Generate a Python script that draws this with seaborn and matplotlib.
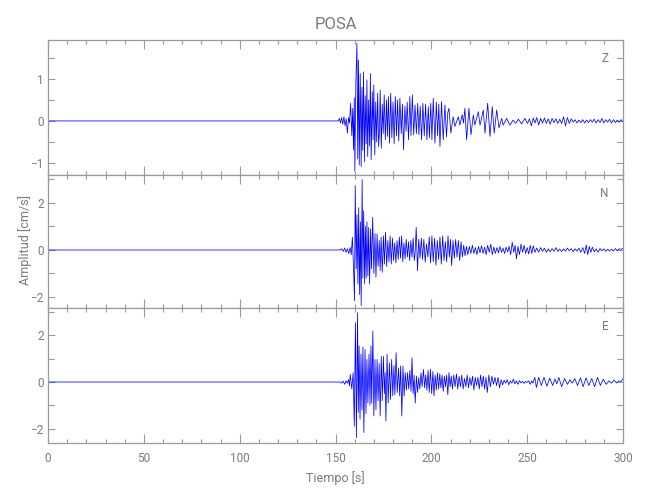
import matplotlib
matplotlib.use("Agg")
import matplotlib.pyplot as plt
import seaborn as sns
from matplotlib.ticker import MultipleLocator

# --- data (time in s, amplitude in cm/s) ---
z_t = [0, 150, 151.5, 152.0, 152.6, 153.2, 153.8, 154.4, 155.0, 155.6, 156.2, 156.8, 157.3,
       157.9, 158.5, 159.0, 159.4, 159.8, 160.1, 160.6, 161.2, 161.6, 162.0, 162.4, 162.9,
       163.4, 163.8, 164.2, 164.6, 165.1, 165.5, 166.0, 166.4, 166.8, 167.3, 167.8, 168.2,
       168.6, 169.2, 169.6, 170.0, 170.5, 171.0, 171.5, 172.0, 172.5, 172.9, 173.3, 173.9,
       174.4, 174.9, 175.4, 176.0, 176.6, 177.1, 177.6, 178.2, 178.8, 179.4, 180.0, 180.6,
       181.2, 181.8, 182.4, 183.0, 183.6, 184.3, 184.9, 185.5, 186.2, 186.8, 187.4, 188.1,
       188.8, 189.4, 190.1, 190.8, 191.5, 192.2, 192.9, 193.5, 194.2, 194.9, 195.6, 196.3,
       197.0, 197.7, 198.4, 199.0, 199.7, 200.3, 201.0, 201.9, 202.6, 203.3, 203.9, 204.5,
       205.3, 206.2, 207.1, 207.9, 208.6, 209.2, 210.2, 211.4, 212.3, 214.1, 214.9, 216.1,
       216.8, 217.5, 218.4, 219.6, 220.7, 221.9, 222.7, 224.5, 225.4, 227.1, 228.0, 229.4,
       230.6, 231.8, 232.8, 234.1, 235.3, 236.7, 237.5, 239.3, 241.0, 242.7, 244.0, 245.4,
       247.1, 248.8, 250.2, 251.2, 252.2, 253.2, 254.1, 255.0, 256.0, 257.0, 258.0, 259.0,
       260.0, 261.0, 262.0, 263.0, 264.0, 265.0, 266.0, 267.0, 268.0, 269.0, 270.0, 271.0,
       272.0, 273.0, 274.0, 275.0, 276.0, 277.0, 278.0, 279.0, 280.0, 281.0, 282.0, 283.0,
       284.0, 285.0, 286.0, 287.0, 288.0, 289.0, 290.0, 291.0, 292.0, 293.0, 294.0, 295.0,
       296.0, 297.0, 298.0, 299.0, 300.0]
z_v = [0, 0, 0.0, 0.06, -0.05, 0.08, -0.08, 0.10, -0.12, 0.05, -0.29, 0.08, -0.05,
       0.42, -0.35, 0.30, -0.69, 0.55, -1.20, 0.90, 1.85, -0.90, 1.45, -1.05, 1.13,
       -1.09, 0.80, -0.70, 1.17, -0.97, 0.60, -0.55, 0.98, -0.85, 0.50, -0.60, 1.13,
       -0.93, 0.70, -0.45, 0.86, -0.81, 0.45, -0.50, 0.66, -0.61, -0.30, 0.74, -0.65,
       0.40, -0.30, 0.62, -0.45, 0.50, -0.37, 0.58, -0.53, 0.66, -0.40, 0.45, -0.55,
       0.58, -0.35, 0.50, -0.48, 0.54, -0.30, 0.40, -0.69, 0.35, -0.25, 0.45, -0.45,
       0.58, -0.35, 0.62, -0.33, 0.38, -0.30, 0.42, -0.33, 0.35, -0.45, 0.42, -0.36,
       0.40, -0.45, 0.34, -0.40, 0.42, -0.45, 0.54, -0.53, 0.45, -0.35, 0.40, -0.61,
       0.46, -0.45, 0.38, -0.38, 0.20, 0.30, -0.29, 0.10, -0.13, 0.10, -0.10, 0.15,
       -0.05, 0.30, -0.45, 0.30, -0.33, 0.14, -0.10, 0.22, -0.10, 0.26, -0.29, 0.42,
       -0.37, 0.34, -0.29, 0.26, -0.17, 0.06, -0.10, 0.06, -0.10, 0.02, -0.06, 0.04,
       -0.07, 0.06, -0.06, 0.05, -0.12, 0.07, -0.05, 0.08, -0.10, 0.06, -0.05, 0.07,
       -0.06, 0.05, -0.08, 0.06, -0.04, 0.05, -0.06, 0.04, -0.06, 0.10, -0.12, 0.08,
       -0.06, 0.05, -0.03, 0.03, -0.05, 0.02, -0.04, 0.03, -0.05, 0.02, -0.04, 0.03,
       -0.03, 0.04, -0.05, 0.03, -0.04, 0.06, -0.05, 0.03, -0.03, 0.04, -0.05, 0.03,
       -0.04, 0.02, -0.03, 0.03, -0.02]

n_t = [0, 150, 152.5, 153.2, 154.0, 154.8, 155.5, 156.2, 156.9, 157.6, 158.2, 158.8, 159.4,
       159.9, 160.3, 160.8, 161.2, 161.7, 162.1, 162.6, 163.0, 163.4, 163.9, 164.3, 164.7,
       165.2, 165.6, 166.0, 166.4, 166.9, 167.3, 167.8, 168.3, 168.8, 169.4, 170.0, 170.6,
       171.1, 171.7, 172.2, 172.8, 173.3, 173.8, 174.4, 175.0, 175.5, 176.1, 176.7, 177.3,
       177.9, 178.5, 179.1, 179.7, 180.3, 180.9, 181.5, 182.1, 182.7, 183.3, 183.9, 184.5,
       185.1, 185.7, 186.3, 186.9, 187.5, 188.1, 188.7, 189.3, 189.9, 190.5, 191.1, 191.5,
       192.1, 192.8, 193.4, 194.1, 194.8, 195.4, 196.1, 196.8, 197.5, 198.2, 198.9, 199.6,
       200.3, 201.0, 201.7, 202.4, 203.1, 203.8, 204.5, 205.2, 205.9, 206.6, 207.3, 208.0,
       208.7, 209.4, 210.0, 210.6, 211.3, 212.0, 212.7, 213.4, 214.1, 214.8, 215.5, 216.2,
       216.9, 217.6, 218.3, 219.0, 219.8, 220.6, 221.4, 222.2, 223.0, 223.8, 224.6, 225.4,
       226.2, 227.0, 227.8, 228.6, 229.4, 230.2, 231.0, 231.8, 232.6, 233.4, 234.2, 235.0,
       235.8, 236.6, 237.4, 238.2, 239.0, 239.8, 240.6, 241.4, 242.2, 243.0, 243.7, 244.4,
       245.2, 246.0, 246.8, 247.6, 248.4, 249.2, 250.0, 250.8, 251.6, 252.4, 253.2, 254.0,
       255.0, 256.0, 257.0, 258.0, 259.0, 260.0, 261.0, 262.0, 263.0, 264.0, 265.0, 266.0,
       267.0, 268.0, 269.0, 270.0, 271.0, 272.0, 273.0, 274.0, 275.0, 276.0, 277.0, 278.0,
       279.0, 280.0, 280.8, 281.6, 282.4, 283.2, 284.0, 285.0, 286.0, 287.0, 288.0, 289.0,
       290.0, 291.0, 292.0, 293.0, 294.0, 295.0, 296.0, 297.0, 298.0, 299.0, 300.0]
n_v = [0, 0, 0.0, 0.05, -0.06, 0.08, -0.10, 0.05, -0.15, 0.10, -0.20, 0.54, -0.74,
       -2.16, 2.74, -0.80, 1.50, -1.45, 1.80, -1.90, 1.20, -2.37, 3.00, -1.20, 1.67,
       -1.45, 1.00, -1.20, 1.20, -1.10, 0.96, -1.45, 0.90, -0.80, 1.39, -1.00, 0.70,
       -1.16, 0.68, -0.70, 0.40, -0.88, 0.54, -0.95, 0.60, -0.60, 0.75, -0.70, 0.40,
       -0.50, 0.60, -0.60, 0.50, -0.45, 0.30, -0.55, 0.40, -0.40, 0.55, -0.35, 0.60,
       -0.50, 0.30, -0.38, 0.45, -0.30, 0.35, -0.45, 0.40, -0.30, 0.50, -0.45, -0.20,
       0.96, -0.88, 0.45, -0.35, 0.50, -0.40, 0.45, -0.52, 0.25, -0.30, 0.55, -0.55,
       0.60, -0.50, 0.50, -0.65, 0.40, -0.40, 0.55, -0.60, 0.60, -0.45, 0.35, -0.50,
       0.60, -0.30, 0.45, -0.67, 0.40, -0.35, 0.45, -0.30, 0.40, -0.45, 0.35, -0.30,
       0.20, -0.25, 0.15, -0.20, 0.15, -0.15, 0.20, -0.15, 0.10, -0.20, 0.15, -0.12,
       0.18, -0.15, 0.12, -0.20, 0.20, -0.10, 0.25, -0.20, 0.12, -0.15, 0.10, -0.12,
       0.15, -0.10, 0.08, -0.15, 0.12, -0.08, 0.15, -0.20, 0.33, -0.10, 0.20, -0.38,
       0.15, -0.20, 0.25, -0.10, 0.20, -0.15, 0.10, -0.17, 0.20, -0.15, 0.18, -0.10,
       0.08, -0.10, 0.10, -0.06, 0.08, -0.10, 0.05, -0.08, 0.06, -0.05, 0.10, -0.06,
       0.04, -0.07, 0.05, -0.05, 0.08, -0.04, 0.06, -0.08, 0.05, -0.05, 0.08, -0.10,
       0.10, -0.15, 0.21, -0.20, 0.15, -0.10, 0.12, -0.08, 0.05, -0.10, 0.06, -0.04,
       0.05, -0.06, 0.03, -0.05, 0.04, -0.05, 0.06, -0.03, 0.05, 0.02, 0.08]

e_t = [0, 150, 152.5, 153.2, 154.0, 154.8, 155.5, 156.2, 156.8, 157.3, 157.7, 158.5, 159.2,
       159.8, 160.4, 160.9, 161.5, 161.9, 162.3, 162.8, 163.3, 163.8, 164.3, 164.8, 165.4,
       165.9, 166.4, 166.9, 167.5, 168.0, 168.5, 168.9, 169.5, 170.0, 170.6, 171.1, 171.7,
       172.2, 172.8, 173.3, 173.9, 174.4, 175.0, 175.5, 175.9, 176.3, 176.9, 177.5, 178.1,
       178.7, 179.3, 179.9, 180.5, 181.0, 181.6, 182.2, 182.9, 183.5, 184.0, 184.6, 185.2,
       185.8, 186.4, 187.0, 187.6, 188.2, 188.8, 189.4, 189.9, 190.5, 191.0, 191.6, 192.2,
       192.8, 193.4, 194.0, 194.6, 195.2, 195.9, 196.5, 197.1, 197.7, 198.3, 198.9, 199.5,
       200.2, 200.8, 201.4, 202.0, 202.6, 203.2, 203.8, 204.4, 205.0, 205.6, 206.2, 206.8,
       207.4, 208.0, 208.6, 209.2, 209.8, 210.4, 211.0, 211.7, 212.4, 213.1, 213.8, 214.5,
       215.2, 215.9, 216.6, 217.3, 218.0, 218.7, 219.4, 220.1, 220.8, 221.5, 222.2, 222.9,
       223.6, 224.3, 225.0, 225.7, 226.4, 227.1, 227.8, 228.5, 229.2, 230.0, 230.8, 231.6,
       232.4, 233.2, 234.0, 234.8, 235.6, 236.4, 237.2, 238.0, 238.8, 239.6, 240.4, 241.2,
       242.0, 242.8, 243.6, 244.4, 245.2, 246.0, 246.8, 247.6, 248.4, 249.2, 250.0, 250.8,
       251.6, 252.4, 253.0, 254.0, 254.8, 256.0, 257.4, 258.8, 260.3, 261.8, 263.3, 264.5,
       265.5, 266.5, 268.0, 269.5, 271.0, 272.3, 273.5, 274.8, 276.3, 277.8, 279.2, 280.7,
       282.2, 283.7, 285.2, 286.7, 288.2, 289.7, 291.2, 292.7, 294.0, 295.3, 296.6, 297.9,
       299.0, 300.0]
e_v = [0, 0, 0.0, -0.05, 0.04, -0.10, 0.05, -0.05, 0.11, -0.17, 0.33, -0.30, 0.40,
       -1.90, 2.55, -2.39, 2.98, -1.30, 1.55, -1.60, 1.20, -1.20, 1.50, -2.17, 1.40,
       -1.35, 0.97, -0.90, 1.20, -1.00, 1.55, -0.90, 2.19, -1.46, 0.97, -1.20, 0.97,
       -0.80, 0.80, -1.46, 1.10, -0.80, 1.10, -0.50, 0.40, -1.67, 1.19, -0.90, 0.83,
       -0.75, 0.97, -0.60, 0.70, -0.55, 1.26, -0.45, 0.60, -0.60, 0.69, -1.46, 0.69,
       -0.60, 0.40, -0.35, 0.40, -0.30, 0.50, -0.40, 1.04, -0.50, 0.30, -0.90, 0.26,
       -0.45, 0.19, -0.30, 0.40, -0.20, 0.54, -0.25, 0.30, -0.35, 0.50, -0.45, 0.55,
       -0.50, 0.45, -0.60, 0.30, -0.35, 0.40, -0.30, 0.35, -0.25, 0.30, -0.40, 0.25,
       -0.20, 0.30, -0.55, 0.40, -0.20, 0.25, -0.30, 0.30, -0.20, 0.35, -0.30, 0.25,
       -0.20, 0.30, -0.30, 0.15, -0.20, 0.30, -0.25, 0.20, -0.15, 0.25, -0.35, 0.20,
       -0.15, 0.20, -0.30, 0.30, -0.20, 0.25, -0.30, 0.20, -0.45, 0.30, -0.20, 0.25,
       -0.10, 0.20, -0.15, 0.20, -0.25, 0.10, -0.12, 0.08, -0.05, 0.10, -0.12, 0.05,
       -0.05, 0.12, -0.08, 0.05, -0.10, 0.06, -0.04, 0.03, -0.06, 0.03, -0.02, 0.05,
       -0.10, 0.05, -0.05, 0.20, -0.24, 0.20, -0.15, 0.20, -0.18, 0.17, -0.15, 0.13,
       -0.08, 0.20, -0.20, 0.15, -0.10, 0.10, -0.05, 0.15, -0.15, 0.18, -0.20, 0.18,
       -0.15, 0.15, -0.20, 0.20, -0.15, 0.12, -0.10, 0.05, -0.05, 0.08, -0.04, 0.05,
       0.02, 0.15]

components = ["Z", "N", "E"]
times = [z_t, n_t, e_t]
values = [z_v, n_v, e_v]
ylims = [(-1.29, 1.93), (-2.47, 3.19), (-2.62, 3.18)]
ytick_major = [1, 2, 2]
ytick_minor = [0.5, 1, 1]

sns.set_style("ticks")
plt.rcParams["font.family"] = ["Roboto", "DejaVu Sans"]

TXT = "#7a7a7a"
AX = "#9a9a9a"

fig = plt.figure(figsize=(6.5, 5), dpi=100)
boxes = [(40, 175), (175, 308), (308, 443)]
axes = []
for (top, bot) in boxes:
    ax = fig.add_axes([48 / 650, 1 - bot / 500, 575 / 650, (bot - top) / 500])
    axes.append(ax)

for i, ax in enumerate(axes):
    sns.lineplot(x=times[i], y=values[i], ax=ax, color="#0000ff", linewidth=0.55,
                 sort=False, estimator=None)
    ax.set_xlim(0, 300)
    ax.set_ylim(*ylims[i])
    ax.xaxis.set_major_locator(MultipleLocator(50))
    ax.xaxis.set_minor_locator(MultipleLocator(10))
    ax.yaxis.set_major_locator(MultipleLocator(ytick_major[i]))
    ax.yaxis.set_minor_locator(MultipleLocator(ytick_minor[i]))
    ax.tick_params(axis="both", which="both", direction="in", top=True, right=True,
                   colors=AX, labelcolor=TXT, labelsize=8.5, width=0.8)
    ax.tick_params(axis="x", which="major", length=6.3, pad=6.5)
    ax.tick_params(axis="x", which="minor", length=3.1)
    ax.tick_params(axis="y", which="major", length=5, pad=3)
    ax.tick_params(axis="y", which="minor", length=4.3)
    for s in ax.spines.values():
        s.set_color(AX)
        s.set_linewidth(0.9)
    ax.set_xlabel("")
    ax.set_ylabel("")
    if i < 2:
        ax.tick_params(axis="x", labelbottom=False)
    ax.text(0.975, 0.86, components[i], transform=ax.transAxes, ha="right", va="center",
            color=TXT, fontsize=8.5)

axes[0].set_title("POSA", color=TXT, fontsize=12, pad=8)
axes[2].set_xlabel("Tiempo [s]", color=TXT, fontsize=9, labelpad=4)
fig.text(25 / 650, 1 - 240 / 500, "Amplitud [cm/s]", rotation=90, ha="center",
         va="center", color=TXT, fontsize=9)

fig.savefig("out.png", dpi=100)
